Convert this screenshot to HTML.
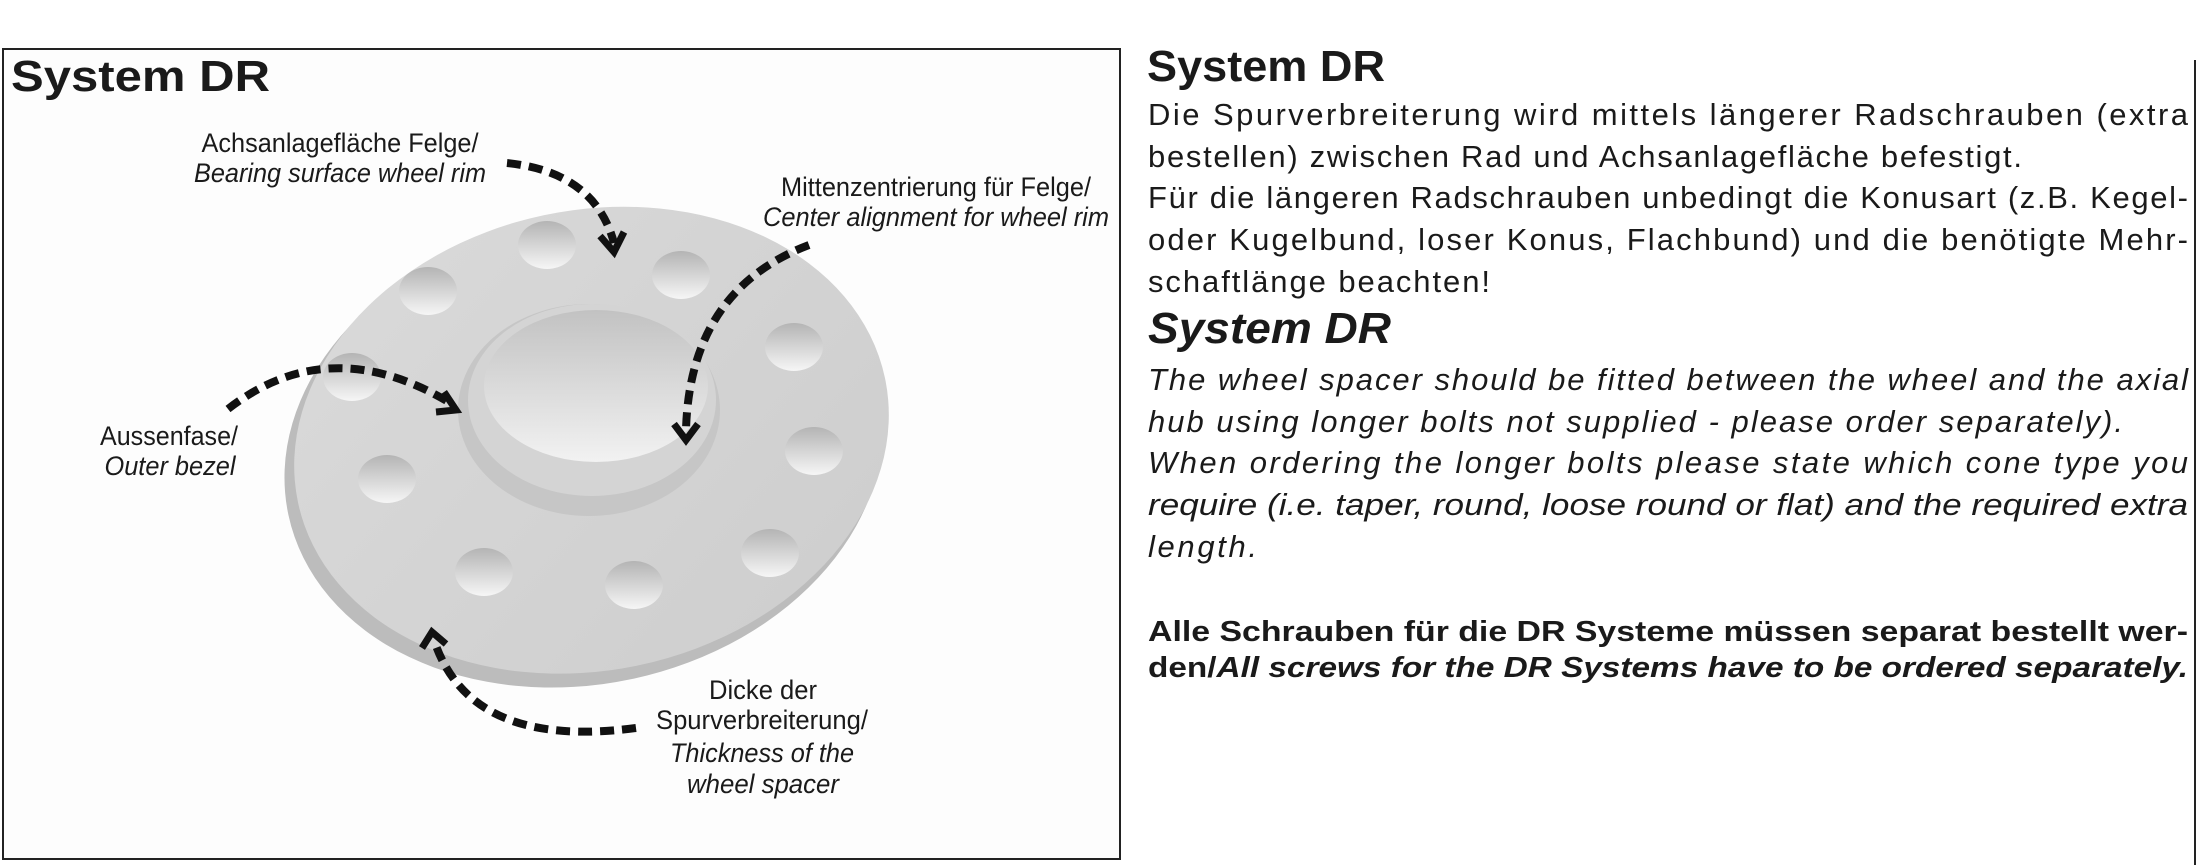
<!DOCTYPE html>
<html><head><meta charset="utf-8"><style>
html,body{margin:0;padding:0;background:#fff;}
body{width:2201px;height:865px;position:relative;overflow:hidden;}
svg text{font-family:"Liberation Sans",sans-serif;fill:#1a1a1a;}
.b{font-size:31px;}
.i{font-size:31px;font-style:italic;}
.bb{font-size:29px;font-weight:bold;}
.l{font-size:27px;}
.li{font-size:27px;font-style:italic;}
.h{font-size:44px;font-weight:bold;}
</style></head><body>
<svg width="2201" height="865" style="position:absolute;left:0;top:0">
<defs>
<linearGradient id="face" x1="0" y1="0" x2="1" y2="1">
<stop offset="0" stop-color="#dadada"/><stop offset="1" stop-color="#cdcdcd"/></linearGradient>
<linearGradient id="hole" x1="0" y1="0" x2="0" y2="1">
<stop offset="0" stop-color="#b4b4b4"/><stop offset="0.55" stop-color="#d8d8d8"/><stop offset="1" stop-color="#f6f6f6"/></linearGradient>
<linearGradient id="hub" x1="0" y1="0" x2="0" y2="1">
<stop offset="0" stop-color="#c2c2c2"/><stop offset="1" stop-color="#f2f2f2"/></linearGradient>
</defs>
<rect x="3" y="49" width="1117" height="810" fill="#fdfdfd" stroke="#222" stroke-width="2"/>
<line x1="2195" y1="60" x2="2195" y2="865" stroke="#222" stroke-width="2"/>
<g transform="rotate(-12 588 443)">
<ellipse cx="582" cy="451" rx="302" ry="232" fill="#bcbcbc"/>
<ellipse cx="592" cy="441" rx="300" ry="230" fill="url(#face)"/>
</g>
<g fill="url(#hole)">
<ellipse cx="547" cy="245" rx="29" ry="24"/><ellipse cx="428" cy="291" rx="29" ry="24"/>
<ellipse cx="681" cy="275" rx="29" ry="24"/><ellipse cx="794" cy="347" rx="29" ry="24"/>
<ellipse cx="352" cy="377" rx="29" ry="24"/><ellipse cx="814" cy="451" rx="29" ry="24"/>
<ellipse cx="387" cy="479" rx="29" ry="24"/><ellipse cx="770" cy="553" rx="29" ry="24"/>
<ellipse cx="484" cy="572" rx="29" ry="24"/><ellipse cx="634" cy="585" rx="29" ry="24"/>
</g>
<ellipse cx="589" cy="410" rx="131" ry="106" fill="#c6c6c6"/>
<ellipse cx="592" cy="400" rx="124" ry="96" fill="#d4d4d4"/>
<ellipse cx="596" cy="386" rx="112" ry="76" fill="url(#hub)"/>
<g fill="none" stroke="#111" stroke-width="8" stroke-dasharray="14 8">
<path d="M507 163 Q595 172 614 243"/>
<path d="M809 245 Q690 290 686 430"/>
<path d="M228 409 Q330 330 452 404"/>
<path d="M636 728 Q470 750 434 640"/>
</g>
<g fill="none" stroke="#111" stroke-width="7">
<path d="M600 236 L614 252 L624 232"/>
<path d="M674 424 L686 440 L698 424"/>
<path d="M444 392 L456 410 L436 412"/>
<path d="M422 648 L432 632 L446 644"/>
</g>
<text class="h" x="11" y="91" textLength="259" lengthAdjust="spacingAndGlyphs">System DR</text>
<g text-anchor="middle">
<text class="l" x="340" y="152" textLength="277" lengthAdjust="spacingAndGlyphs">Achsanlagefläche Felge/</text>
<text class="li" x="340" y="182" textLength="292" lengthAdjust="spacingAndGlyphs">Bearing surface wheel rim</text>
<text class="l" x="936" y="196" textLength="310" lengthAdjust="spacingAndGlyphs">Mittenzentrierung für Felge/</text>
<text class="li" x="936" y="226" textLength="346" lengthAdjust="spacingAndGlyphs">Center alignment for wheel rim</text>
<text class="l" x="169" y="445" textLength="138" lengthAdjust="spacingAndGlyphs">Aussenfase/</text>
<text class="li" x="170" y="475" textLength="131" lengthAdjust="spacingAndGlyphs">Outer bezel</text>
<text class="l" x="763" y="699" textLength="108" lengthAdjust="spacingAndGlyphs">Dicke der</text>
<text class="l" x="762" y="729" textLength="212" lengthAdjust="spacingAndGlyphs">Spurverbreiterung/</text>
<text class="li" x="762" y="762" textLength="184" lengthAdjust="spacingAndGlyphs">Thickness of the</text>
<text class="li" x="763" y="793" textLength="152" lengthAdjust="spacingAndGlyphs">wheel spacer</text>
</g>
<text class="h" x="1147" y="81" textLength="238" lengthAdjust="spacingAndGlyphs">System DR</text>
<text class="b" x="1148" y="125" textLength="1040" lengthAdjust="spacing">Die Spurverbreiterung wird mittels längerer Radschrauben (extra</text>
<text class="b" x="1148" y="167" textLength="874" lengthAdjust="spacing">bestellen) zwischen Rad und Achsanlagefläche befestigt.</text>
<text class="b" x="1148" y="208" textLength="1040" lengthAdjust="spacing">Für die längeren Radschrauben unbedingt die Konusart (z.B. Kegel-</text>
<text class="b" x="1148" y="250" textLength="1040" lengthAdjust="spacing">oder Kugelbund, loser Konus, Flachbund) und die benötigte Mehr-</text>
<text class="b" x="1148" y="292" textLength="342" lengthAdjust="spacing">schaftlänge beachten!</text>
<text class="h" x="1148" y="343" font-style="italic" textLength="243" lengthAdjust="spacingAndGlyphs">System DR</text>
<text class="i" x="1148" y="390" textLength="1040" lengthAdjust="spacing">The wheel spacer should be fitted between the wheel and the axial</text>
<text class="i" x="1148" y="432" textLength="975" lengthAdjust="spacing">hub using longer bolts not supplied - please order separately).</text>
<text class="i" x="1148" y="473" textLength="1040" lengthAdjust="spacing">When ordering the longer bolts please state which cone type you</text>
<text class="i" x="1148" y="515" textLength="1040" lengthAdjust="spacingAndGlyphs">require (i.e. taper, round, loose round or flat) and the required extra</text>
<text class="i" x="1148" y="557" textLength="109" lengthAdjust="spacing">length.</text>
<text class="bb" x="1148" y="641" textLength="1040" lengthAdjust="spacingAndGlyphs">Alle Schrauben für die DR Systeme müssen separat bestellt wer-</text>
<text class="bb" x="1148" y="677" textLength="1040" lengthAdjust="spacingAndGlyphs">den/<tspan font-style="italic">All screws for the DR Systems have to be ordered separately.</tspan></text>
</svg>
</body></html>
